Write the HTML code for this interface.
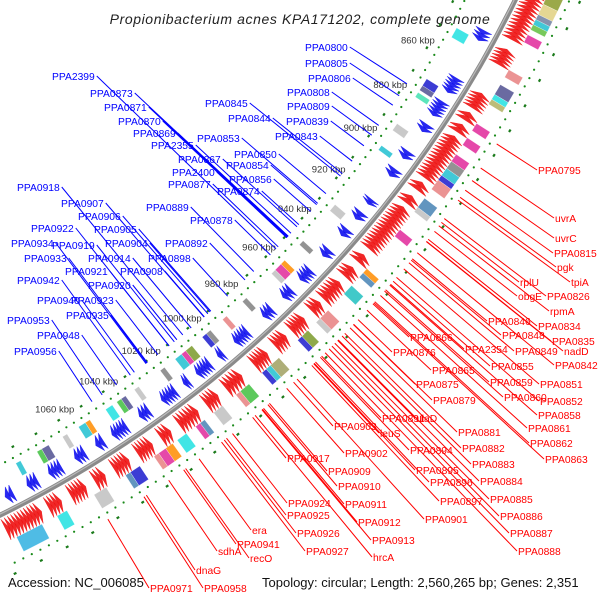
<!DOCTYPE html>
<html><head><meta charset="utf-8">
<style>
html,body{margin:0;padding:0;background:#fff;}
svg{display:block;font-family:"Liberation Sans",sans-serif;}
</style></head>
<body>
<svg id="map" width="600" height="600" viewBox="0 0 600 600" xmlns="http://www.w3.org/2000/svg">
<text x="300" y="24" text-anchor="middle" font-size="14" font-style="italic" fill="#222" letter-spacing="0.6">Propionibacterium acnes KPA171202, complete genome</text>
<g id="rings"></g>
<g id="feat"></g>
<g id="lbl"></g>
<text x="8" y="587" font-size="13" fill="#111">Accession: NC_006085</text>
<text x="262" y="587" font-size="13" fill="#111">Topology: circular; Length: 2,560,265 bp; Genes: 2,351</text>
</svg>
<script>
// ---- data ----
const tickKbp = [860, 880, 900, 920, 940, 960, 980, 1000, 1020, 1040, 1060];
const redSegs = [[818,842],[846,852],[864,870],[872,875],[877,880],[882,900],[902,905],[908,911],[913,932],[935,938],[941,945],[948,956],[958,962],[966,972],[975,980],[984,990],[996,1003],[1007,1012],[1016,1024],[1028,1032],[1036,1042],[1046,1052],[1056,1060],[1064,1070],[1074,1079],[1082,1096]];
const blueSegs = [[844,848],[864,870],[874,880],[884,887],[896,899],[904,907],[918,920],[924,927],[932,935],[942,945],[952,957],[962,966],[972,976],[984,990],[996,998],[1002,1008],[1012,1014],[1018,1024],[1030,1034],[1040,1046],[1050,1053],[1058,1062],[1068,1073],[1078,1082],[1088,1091]];
const outerBoxes = [[818,826,'#8a9a2a'],[826,830,'#e0d080'],[830,832,'#7080a0'],[832,834,'#20c0d0'],[834,836,'#60c040'],[838,841,'#e0289a'],[852,855,'#e88080'],[858,862,'#505090'],[862,864,'#20e0e0'],[864,866,'#b0b060'],[874,877,'#e0289a'],[880,883,'#e0289a'],[887,890,'#e0289a'],[890,893,'#808080'],[893,896,'#20c0d0'],[896,898,'#1a1acc'],[898,902,'#e88080'],[906,910,'#4682b4'],[910,912,'#c0c0c0'],[920,923,'#e0289a'],[938,940,'#ff8c00'],[940,942,'#4682b4'],[946,950,'#20c0c0'],[958,962,'#e88080'],[962,964,'#c0c0c0'],[968,971,'#7a9a2a'],[971,973,'#1a1acc'],[982,986,'#a0a060'],[986,988,'#20c0d0'],[988,990,'#1a1acc'],[996,1000,'#40c040'],[1000,1002,'#e88080'],[1008,1012,'#c0c0c0'],[1016,1018,'#4682b4'],[1018,1020,'#e0289a'],[1024,1028,'#20e0e0'],[1030,1033,'#ff8c00'],[1033,1036,'#e0289a'],[1036,1038,'#e88080'],[1044,1048,'#1a1acc'],[1048,1050,'#4682b4'],[1058,1063,'#c0c0c0'],[1074,1078,'#20e0e0'],[1084,1094,'#30b0e0']];
const innerBoxes = [[848,852,'#20e0e0'],[870,873,'#1a1acc'],[873,875,'#505090'],[876,878,'#40e0b0'],[890,893,'#c0c0c0'],[900,902,'#20c0d0'],[928,931,'#c0c0c0'],[946,948,'#808080'],[956,958,'#ff8c00'],[958,961,'#e0289a'],[961,963,'#c0c0c0'],[976,978,'#808080'],[986,988,'#e88080'],[994,996,'#808080'],[996,998,'#1a1acc'],[1003,1006,'#7a9a2a'],[1006,1008,'#e0289a'],[1008,1011,'#20c0d0'],[1016,1018,'#808080'],[1028,1030,'#c0c0c0'],[1034,1036,'#505090'],[1036,1038,'#40c040'],[1040,1043,'#20e0e0'],[1050,1052,'#ff8c00'],[1052,1055,'#20c0d0'],[1060,1062,'#c0c0c0'],[1068,1071,'#505090'],[1071,1073,'#40c040'],[1080,1082,'#20c0d0']];
const redLabels = [['PPA0795',538,174],['uvrA',555,222],['uvrC',555,242],['PPA0815',554,257],['pgk',557,271],['tpiA',571,286],['rplU',520,286],['PPA0826',547,300],['obgE',518,300],['rpmA',550,315],['PPA0846',488,325],['PPA0834',538,330],['PPA0848',502,339],['PPA0835',552,345],['PPA0866',410,341],['PPA2354',465,353],['PPA0849',515,355],['nadD',564,355],['PPA0876',393,356],['PPA0855',491,370],['PPA0842',555,369],['PPA0865',432,374],['PPA0859',490,386],['PPA0875',416,388],['PPA0851',540,388],['PPA0879',433,404],['PPA0860',504,401],['PPA0852',540,405],['ulaD',416,422],['PPA0891',382,422],['PPA0858',538,419],['PPA0903',334,430],['PPA0881',458,436],['PPA0861',528,432],['leuS',380,437],['PPA0882',462,452],['PPA0862',530,447],['PPA0894',410,454],['PPA0902',345,457],['PPA0917',287,462],['PPA0883',472,468],['PPA0863',545,463],['PPA0895',416,474],['PPA0909',328,475],['PPA0884',480,485],['PPA0896',430,486],['PPA0910',338,490],['PPA0885',490,503],['PPA0897',440,505],['PPA0924',288,507],['PPA0911',345,508],['PPA0925',287,519],['PPA0886',500,520],['PPA0901',425,523],['PPA0912',358,526],['era',252,534],['PPA0926',297,537],['PPA0887',510,537],['PPA0941',237,548],['PPA0913',372,544],['sdhA',218,555],['PPA0927',306,555],['PPA0888',518,555],['recO',250,562],['hrcA',373,561],['dnaG',196,574],['PPA0971',150,592],['PPA0958',204,592]];
const blueLabels = [['PPA0800',305,51],['PPA0805',305,67],['PPA2399',52,80],['PPA0806',308,82],['PPA0808',287,96],['PPA0873',90,97],['PPA0845',205,107],['PPA0809',287,110],['PPA0871',104,111],['PPA0844',228,122],['PPA0839',286,125],['PPA0870',118,125],['PPA0869',133,137],['PPA0853',197,142],['PPA0843',275,140],['PPA2355',151,149],['PPA0850',234,158],['PPA0867',178,163],['PPA0854',226,169],['PPA2400',172,176],['PPA0856',229,183],['PPA0877',168,188],['PPA0874',217,195],['PPA0918',17,191],['PPA0907',61,207],['PPA0889',146,211],['PPA0906',78,220],['PPA0878',190,224],['PPA0922',31,232],['PPA0905',94,233],['PPA0934',11,247],['PPA0919',52,249],['PPA0904',105,247],['PPA0892',165,247],['PPA0933',24,262],['PPA0914',88,262],['PPA0898',148,262],['PPA0921',65,275],['PPA0908',120,275],['PPA0942',17,284],['PPA0920',88,289],['PPA0940',37,304],['PPA0923',71,304],['PPA0935',66,319],['PPA0953',7,324],['PPA0948',37,339],['PPA0956',14,355]];

// ---- geometry ----
const CX=-501, CY=-501, DEG=Math.PI/180;
function ang(k){return (30.6+(k-860)*0.1406)*DEG;}
function pt(k,r){const a=ang(k);return [CX+r*Math.cos(a), CY+r*Math.sin(a)];}
const NS='http://www.w3.org/2000/svg';
function mk(tag,parent,attrs){const e=document.createElementNS(NS,tag);for(const k in attrs)e.setAttribute(k,attrs[k]);parent.appendChild(e);return e;}
function arcPath(k1,k2,r){const a=pt(k1,r),b=pt(k2,r);return `M${a[0]},${a[1]} A${r},${r} 0 0 1 ${b[0]},${b[1]}`;}
function band(k1,k2,r1,r2){const a=pt(k1,r1),b=pt(k2,r1),c=pt(k2,r2),d=pt(k1,r2);
 return `M${a[0]},${a[1]} A${r1},${r1} 0 0 1 ${b[0]},${b[1]} L${c[0]},${c[1]} A${r2},${r2} 0 0 0 ${d[0]},${d[1]}Z`;}

const rings=document.getElementById('rings'), feat=document.getElementById('feat'), lbl=document.getElementById('lbl');

[1088,1182].forEach(r=>{
 for(let k=818;k<=1100;k+=3.3){
  const p=pt(k,r);
  const d=mk('circle',rings,{cx:p[0].toFixed(1),cy:p[1].toFixed(1),r:1.1,fill:'#1a8a1a'});
  
  
 }
});
for(let k=820;k<=1100;k+=10){
 [1078,1192].forEach(r=>{
  const a=pt(k-0.5,r),b=pt(k+0.5,r);
  const t=mk('line',rings,{x1:a[0],y1:a[1],x2:b[0],y2:b[1],stroke:'#1a7a1a','stroke-width':2.2});
  
  
 });
}
tickKbp.forEach(k=>{
 const p=pt(k-1,1066);
 const t=mk('text',rings,{x:p[0],y:p[1]+4,'text-anchor':'middle','font-size':9.5,fill:'#333'});
 t.textContent=k+' kbp';
 
 
});

const bb1=mk('path',feat,{d:arcPath(800,1110,1133),fill:'none',stroke:'#8a8a8a','stroke-width':5});


mk('path',feat,{d:arcPath(800,1110,1132),fill:'none',stroke:'#bbb','stroke-width':1.2});

function arrows(segs,r1,r2,color,fwd,name){
 segs.forEach(([s,e])=>{
  const n=Math.max(1,Math.round((e-s)/1.3));const w=(e-s)/n;
  for(let i=0;i<n;i++){
   const k1=s+i*w,k2=k1+w*1.15,km=(r1+r2)/2;
   let pts;
   if(fwd){const a=pt(k1,r1),b=pt(k1,r2),c=pt(k2,km);pts=[a,b,c];}
   else{const a=pt(k2,r1),b=pt(k2,r2),c=pt(k1,km);pts=[a,b,c];}
   const p=mk('polygon',feat,{points:pts.map(q=>q[0].toFixed(1)+','+q[1].toFixed(1)).join(' '),fill:color,stroke:color,'stroke-width':0.4,'fill-opacity':0.9});
   
   
  }
 });
}
arrows(blueSegs,1110,1128,'#1010ee',true,'forward-gene');
arrows(redSegs,1137,1160,'#ee1010',false,'reverse-gene');

function boxes(list,r1,r2,name){
 list.forEach(([s,e,c])=>{
  const p=mk('path',feat,{d:band(s,e,r1,r2),fill:c,stroke:'#fff','stroke-width':0.3,'fill-opacity':0.85});
  
  
 });
}
boxes(outerBoxes,1160,1176,'reverse-feature-box');
boxes(innerBoxes,1094,1108,'forward-feature-box');

function labels(list,color,outer){
 list.forEach(([txt,x,y])=>{
  const t=mk('text',lbl,{x:x,y:y,'font-size':10.3,fill:color});
  t.textContent=txt;
  
  
  const w=t.getComputedTextLength();
  const sx= outer? x-1 : x+w+2, sy=y-4;
  const dx=sx-CX, dy=sy-CY, d=Math.hypot(dx,dy);
  const R= outer?1188:1080;
  const ex=CX+dx/d*R, ey=CY+dy/d*R;
  const l=mk('line',lbl,{x1:sx,y1:sy,x2:ex,y2:ey,stroke:color,'stroke-width':1});
  
  
 });
}
labels(redLabels,'#ff0000',true);
labels(blueLabels,'#0000ff',false);
</script>
</body></html>
